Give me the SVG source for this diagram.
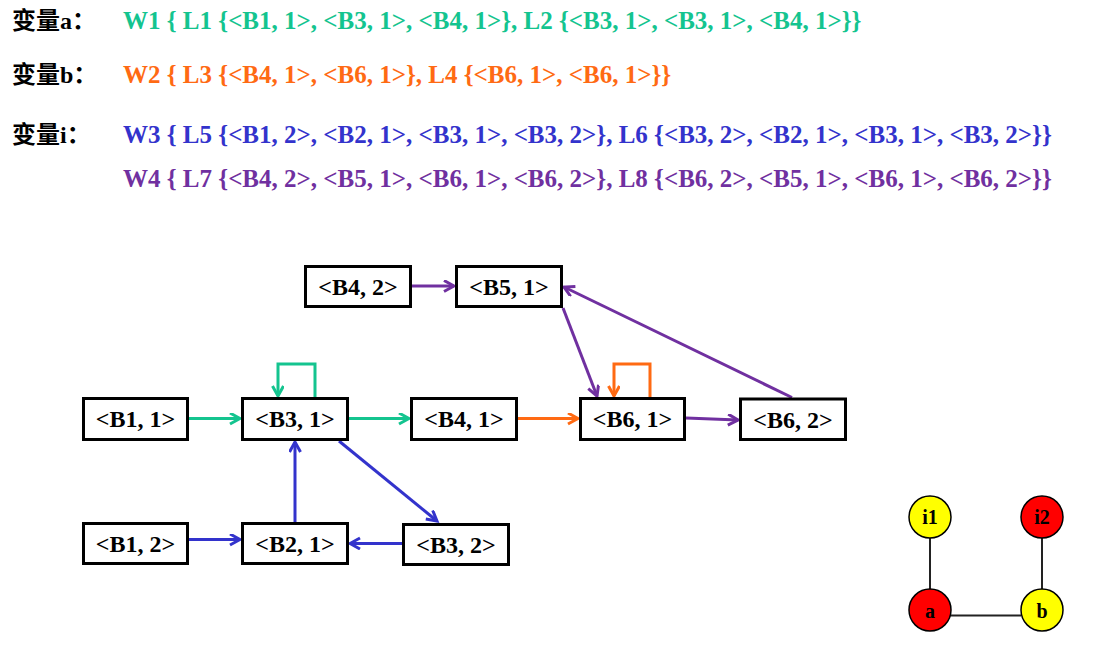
<svg xmlns="http://www.w3.org/2000/svg" width="1107" height="669" viewBox="0 0 1107 669">
<style>
.lbl{font-family:"Liberation Serif","Noto Sans CJK SC",serif;font-weight:bold;font-size:24px;fill:#000}
.ln{font-family:"Liberation Serif",serif;font-weight:bold;font-size:25px}
.g{fill:#14C48F}.o{fill:#FF6A13}.b{fill:#3333CC}.p{fill:#7030A0}
.box rect{fill:#fff;stroke:#000;stroke-width:3}
.box text{font-family:"Liberation Serif",serif;font-weight:bold;font-size:24px;text-anchor:middle;fill:#000}
.e{fill:none;stroke-width:3}
.eg{stroke:#14C48F}.eo{stroke:#FF6A13}.eb{stroke:#3333CC}.ep{stroke:#7030A0}
.c circle{stroke:#000;stroke-width:1.5}
.c text{font-family:"Liberation Serif",serif;font-weight:bold;font-size:20px;text-anchor:middle;fill:#000}
</style>
<defs>
<marker id="mg" markerWidth="14" markerHeight="14" refX="11" refY="6" orient="auto" markerUnits="userSpaceOnUse"><path d="M1,0.5 L11,6 L1,11.5" fill="none" stroke="#14C48F" stroke-width="3"/></marker>
<marker id="mo" markerWidth="14" markerHeight="14" refX="11" refY="6" orient="auto" markerUnits="userSpaceOnUse"><path d="M1,0.5 L11,6 L1,11.5" fill="none" stroke="#FF6A13" stroke-width="3"/></marker>
<marker id="mb" markerWidth="14" markerHeight="14" refX="11" refY="6" orient="auto" markerUnits="userSpaceOnUse"><path d="M1,0.5 L11,6 L1,11.5" fill="none" stroke="#3333CC" stroke-width="3"/></marker>
<marker id="mp" markerWidth="14" markerHeight="14" refX="11" refY="6" orient="auto" markerUnits="userSpaceOnUse"><path d="M1,0.5 L11,6 L1,11.5" fill="none" stroke="#7030A0" stroke-width="3"/></marker>
</defs>
<rect width="1107" height="669" fill="#fff"/>
<g id="legend">
<text class="lbl" x="12" y="29">变量a：</text>
<text class="ln g" x="123" y="29">W1 { L1 {&lt;B1, 1&gt;, &lt;B3, 1&gt;, &lt;B4, 1&gt;}, L2 {&lt;B3, 1&gt;, &lt;B3, 1&gt;, &lt;B4, 1&gt;}}</text>
<text class="lbl" x="12" y="83">变量b：</text>
<text class="ln o" x="123" y="83">W2 { L3 {&lt;B4, 1&gt;, &lt;B6, 1&gt;}, L4 {&lt;B6, 1&gt;, &lt;B6, 1&gt;}}</text>
<text class="lbl" x="12" y="143">变量i：</text>
<text class="ln b" x="123" y="143">W3 { L5 {&lt;B1, 2&gt;, &lt;B2, 1&gt;, &lt;B3, 1&gt;, &lt;B3, 2&gt;}, L6 {&lt;B3, 2&gt;, &lt;B2, 1&gt;, &lt;B3, 1&gt;, &lt;B3, 2&gt;}}</text>
<text class="ln p" x="123" y="187">W4 { L7 {&lt;B4, 2&gt;, &lt;B5, 1&gt;, &lt;B6, 1&gt;, &lt;B6, 2&gt;}, L8 {&lt;B6, 2&gt;, &lt;B5, 1&gt;, &lt;B6, 1&gt;, &lt;B6, 2&gt;}}</text>
</g>
<g id="connectors">
<path class="e eg" d="M189,418.5 L240,418.5" marker-end="url(#mg)"/>
<path class="e eg" d="M349,418.5 L409,418.5" marker-end="url(#mg)"/>
<path class="e eg" d="M315,397 L315,364 L278,364 L278,396" marker-end="url(#mg)"/>
<path class="e eo" d="M518,418.5 L578,418.5" marker-end="url(#mo)"/>
<path class="e eo" d="M650,397 L650,364 L614,364 L614,396" marker-end="url(#mo)"/>
<path class="e ep" d="M686,418 L738,420" marker-end="url(#mp)"/>
<path class="e ep" d="M412,286 L454,286" marker-end="url(#mp)"/>
<path class="e ep" d="M563,308 L597,396" marker-end="url(#mp)"/>
<path class="e ep" d="M792,397.5 L564,287" marker-end="url(#mp)"/>
<path class="e eb" d="M339,441 L437,521" marker-end="url(#mb)"/>
<path class="e eb" d="M295,522 L295,442" marker-end="url(#mb)"/>
<path class="e eb" d="M189,539.5 L240,539.5" marker-end="url(#mb)"/>
<path class="e eb" d="M402,543.5 L350,543.5" marker-end="url(#mb)"/>
<path d="M930,538 L930,589 M1042,538 L1042,589 M950,615.5 L1021,615.5" stroke="#222" stroke-width="2" fill="none"/>
</g>
<g id="n-B4-2" class="box"><rect x="305.5" y="266.5" width="105" height="40"/><text x="358" y="295">&lt;B4, 2&gt;</text></g>
<g id="n-B5-1" class="box"><rect x="456.5" y="266.5" width="105" height="40"/><text x="509" y="295">&lt;B5, 1&gt;</text></g>
<g id="n-B1-1" class="box"><rect x="83.5" y="398.5" width="104" height="41"/><text x="135.5" y="427">&lt;B1, 1&gt;</text></g>
<g id="n-B3-1" class="box"><rect x="242.5" y="398.5" width="105" height="41"/><text x="295" y="427">&lt;B3, 1&gt;</text></g>
<g id="n-B4-1" class="box"><rect x="411.5" y="398.5" width="105" height="41"/><text x="464" y="427">&lt;B4, 1&gt;</text></g>
<g id="n-B6-1" class="box"><rect x="580.5" y="398.5" width="104" height="41"/><text x="632.5" y="427">&lt;B6, 1&gt;</text></g>
<g id="n-B6-2" class="box"><rect x="740.5" y="399" width="105" height="40.5"/><text x="793" y="428">&lt;B6, 2&gt;</text></g>
<g id="n-B1-2" class="box"><rect x="83.5" y="523.5" width="104" height="40"/><text x="135.5" y="552">&lt;B1, 2&gt;</text></g>
<g id="n-B2-1" class="box"><rect x="242.5" y="523.5" width="105" height="40"/><text x="295" y="552">&lt;B2, 1&gt;</text></g>
<g id="n-B3-2" class="box"><rect x="403.5" y="524.5" width="105" height="40"/><text x="456" y="553">&lt;B3, 2&gt;</text></g>
<g id="n-i1" class="c"><circle cx="930" cy="517" r="21" fill="#FFFF00"/><text x="930" y="524">i1</text></g>
<g id="n-i2" class="c"><circle cx="1042" cy="517" r="21" fill="#FF0000"/><text x="1042" y="524">i2</text></g>
<g id="n-a" class="c"><circle cx="930" cy="610" r="21" fill="#FF0000"/><text x="930" y="618">a</text></g>
<g id="n-b" class="c"><circle cx="1042" cy="610" r="21" fill="#FFFF00"/><text x="1042" y="618">b</text></g>
</svg>
